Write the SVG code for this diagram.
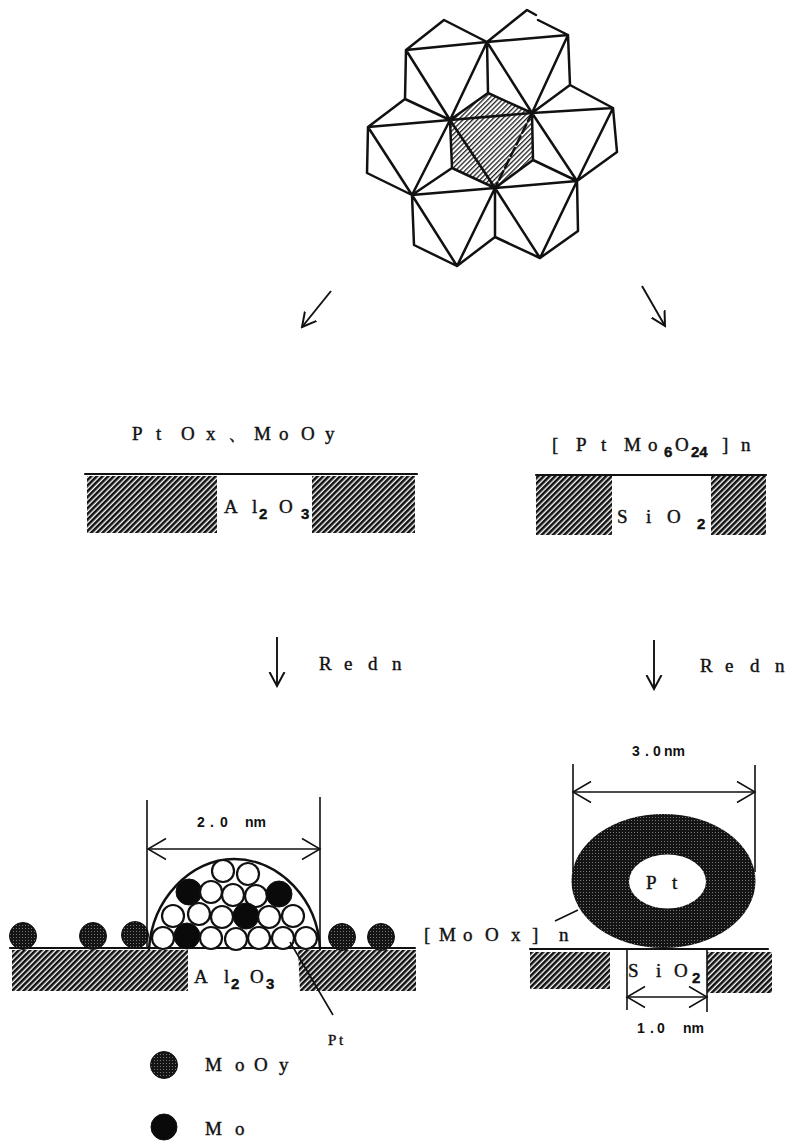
<svg xmlns="http://www.w3.org/2000/svg" width="787" height="1141" viewBox="0 0 787 1141">
<style>
text{font-family:"Liberation Serif","DejaVu Serif",serif;font-size:19px;fill:#111;stroke:#111;stroke-width:.4}
.sub{font-family:"Liberation Sans",sans-serif;font-weight:bold;font-size:15px}
.dim{font-family:"Liberation Sans",sans-serif;font-size:14px;font-weight:bold;stroke-width:0}
.ln{fill:none;stroke:#111;stroke-width:2.5;stroke-linecap:round;stroke-linejoin:round}
.thin{fill:none;stroke:#111;stroke-width:1.6}
.gl{stroke-width:2.2}
.ar{fill:none;stroke:#111;stroke-width:1.9;marker-end:url(#open)}
.dm{fill:none;stroke:#111;stroke-width:1.6;marker-start:url(#open2);marker-end:url(#open2)}
.h{fill:url(#hatch)}
.a{fill:#fff;stroke:#111;stroke-width:2.200;r:11px}
.b{fill:#0a0a0a;stroke:#111;stroke-width:1;r:13px}
.s{fill:url(#dots);stroke:#111;stroke-width:1;r:13.500px}
</style>
<defs>
<pattern id="hatch" width="4" height="4" patternUnits="userSpaceOnUse" patternTransform="rotate(-45)"><rect width="4" height="4" fill="#fff"/><rect width="4" height="2.600" fill="#111"/></pattern>
<pattern id="fine" width="3.400" height="3.400" patternUnits="userSpaceOnUse" patternTransform="rotate(-45)"><rect width="3.400" height="3.400" fill="#fff"/><rect width="3.400" height="1.300" fill="#222"/></pattern>
<pattern id="dots" width="3" height="3" patternUnits="userSpaceOnUse"><rect width="3" height="3" fill="#141414"/><rect x="1" y="1" width="1" height="1" fill="#777"/></pattern>
<marker id="open" viewBox="-14 -9 16 18" markerWidth="16" markerHeight="18" refX="0" refY="0" orient="auto" markerUnits="userSpaceOnUse"><path d="M-14-7.500L0 0L-14 7.500" fill="none" stroke="#111" stroke-width="2"/></marker>
<marker id="open2" viewBox="-20 -12 22 24" markerWidth="22" markerHeight="24" refX="0" refY="0" orient="auto-start-reverse" markerUnits="userSpaceOnUse"><path d="M-18-10.500L0 0L-18 10.500" fill="none" stroke="#111" stroke-width="1.500"/></marker>
</defs>
<g id="polyhedra">
<polygon points="488,93 532,113 533,160 495,188 452,168 450,120" fill="url(#fine)"/>
<path class="ln" d="M406,50L444,20L487,42L527,10L536,15M538,20L568,35L570,85L532,113M570,85L613,108L617,152L577,181L533,160L532,113L488,93L450,120L405,99L406,50L487,42L568,35L532,113L487,42L488,93M487,42L450,120L406,50M405,99L368,127L450,120L412,195L368,127L367,173L412,195L452,168L450,120L532,113L613,108L577,181L532,113M452,168L495,188L533,160M412,195L495,188L577,181L578,231L540,258L577,181M495,188L540,258L495,237L457,266L495,188L495,237M412,195L457,266L414,245L412,195M450,120L495,188"/>
<path class="ln" stroke-dasharray="9 4" d="M532,113L495,188"/>
</g>
<g id="label-oxides"><text x="132 156 181 206 228 254 279 301 325" y="440">PtOx、MoOy</text></g>
<g id="support-al2o3-top">
<rect class="h" x="87" y="476" width="130" height="57"/><rect class="h" x="312" y="476" width="103" height="57"/>
<path class="ln gl" d="M85,474H417"/>
<text x="224" y="513">A</text><text x="252" y="513">l</text><text class="sub" x="259" y="519">2</text><text x="279" y="513">O</text><text class="sub" x="301" y="519">3</text>
</g>
<g id="label-ptmo"><text x="552 576 601 624 648" y="451">[PtMo</text><text class="sub" x="664" y="457">6</text><text x="675" y="451">O</text><text class="sub" x="691" y="457">24</text><text x="722 741" y="451">]n</text></g>
<g id="support-sio2-top">
<rect class="h" x="536" y="476" width="76" height="59"/><rect class="h" x="711" y="476" width="55" height="59"/>
<path class="ln gl" d="M536,475H766"/>
<text x="617" y="523">S</text><text x="646" y="523">i</text><text x="667" y="523">O</text><text class="sub" x="697" y="529">2</text>
</g>
<g id="redn-left"><text x="319 344 368 392" y="670">Redn</text></g>
<g id="redn-right"><text x="700 725 750 775" y="672">Redn</text></g>
<g id="support-al2o3-bottom">
<rect class="h" x="12" y="950" width="176" height="41"/><path class="h" d="M298,950H416V991H300Z"/>
<path class="ln gl" d="M10,948H415"/>
<text x="194" y="983">A</text><text x="224" y="983">l</text><text class="sub" x="231" y="989">2</text><text x="250" y="983">O</text><text class="sub" x="266" y="989">3</text>
</g>
<g id="particle-pt">
<path class="ln" d="M149,949C152,900 190,859 234,859C280,859 318,900 320,949"/>
<circle class="a" cx="223" cy="871"/><circle class="a" cx="248" cy="874"/>
<circle class="b" cx="189" cy="892"/><circle class="a" cx="211" cy="892"/><circle class="a" cx="233" cy="895"/><circle class="a" cx="256" cy="896"/><circle class="b" cx="279" cy="894"/>
<circle class="a" cx="173" cy="916"/><circle class="a" cx="199" cy="914"/><circle class="a" cx="222" cy="917"/><circle class="b" cx="246" cy="916"/><circle class="a" cx="269" cy="917"/><circle class="a" cx="293" cy="916"/>
<circle class="a" cx="163" cy="938"/><circle class="b" cx="187" cy="936"/><circle class="a" cx="211" cy="938"/><circle class="a" cx="236" cy="939"/><circle class="a" cx="259" cy="938"/><circle class="a" cx="283" cy="938"/><circle class="a" cx="306" cy="938"/>
</g>
<g id="mooy-spheres">
<circle class="s" cx="23" cy="936"/><circle class="s" cx="93" cy="936"/><circle class="s" cx="135" cy="935"/><circle class="s" cx="342" cy="937"/><circle class="s" cx="381" cy="937"/>
</g>
<g id="dim-2nm"><text class="dim" x="197 210 220" y="827">2.0</text><text class="dim" x="245" y="827">nm</text></g>
<g id="label-pt"><text x="328 339" y="1045" style="font-size:15px">Pt</text></g>
<g id="legend-mooy"><circle class="s" cx="164" cy="1065"/><text x="205 235 254 279" y="1071">MoOy</text></g>
<g id="legend-mo"><circle class="b" cx="164" cy="1127"/><text x="205 235" y="1135">Mo</text></g>
<g id="support-sio2-bottom">
<rect class="h" x="530" y="952" width="80" height="37"/><rect class="h" x="707" y="952" width="65" height="41"/>
<path class="ln gl" d="M530,949H768"/>
<text x="628" y="977">S</text><text x="656" y="977">i</text><text x="674" y="977">O</text><text class="sub" x="692" y="983">2</text>
</g>
<g id="particle-moox">
<ellipse cx="663.500" cy="881" rx="92" ry="67" fill="url(#dots)"/>
<ellipse cx="667.500" cy="881.500" rx="38.500" ry="27" fill="#fff"/>
<text x="646 672" y="889">Pt</text>
</g>
<g id="label-moox"><text x="424 439 463 485 511 532 559" y="941">[MoOx]n</text></g>
<g id="dim-3nm"><text class="dim" x="632 645 653" y="756">3.0</text><text class="dim" x="664" y="756">nm</text></g>
<g id="dim-1nm"><text class="dim" x="637 650 657" y="1033">1.0</text><text class="dim" x="683" y="1033">nm</text></g>
<g id="connectors">
<path class="ar" d="M331,291L302,327"/>
<path class="ar" d="M642,286L665,326"/>
<path class="ar" d="M277,637L277,686"/>
<path class="ar" d="M654,640L654,689"/>
<path class="thin" d="M147,800V948M320,797V948M573,764V872M755,765V872M627,949V1010M707,949V1012M290,942L333,1015M555,921L578,910"/>
<path class="dm" d="M148,849H320"/>
<path class="dm" d="M573,792H755"/>
<path class="dm" d="M627,997H707"/>
</g>
</svg>
